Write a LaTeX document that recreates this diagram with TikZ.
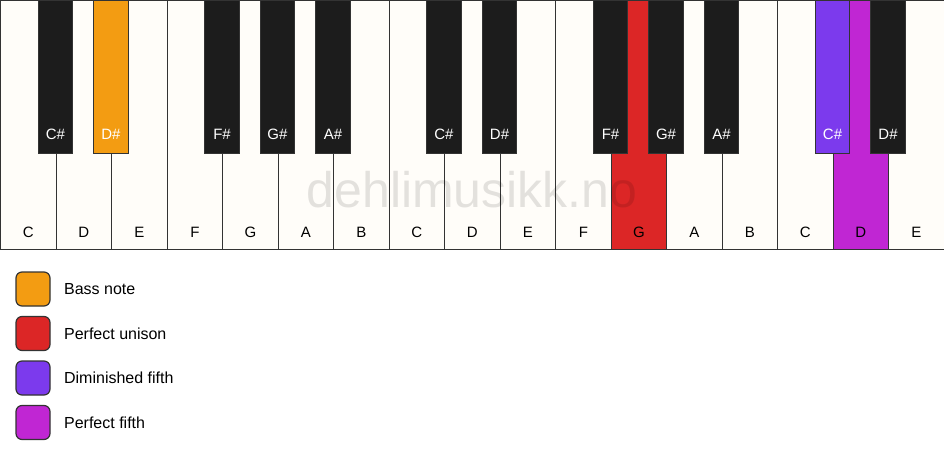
\documentclass[tikz,border=0pt]{standalone}
\usepackage{fontspec}
\setmainfont{Liberation Sans}
\usetikzlibrary{positioning}
\definecolor{keyWhite}{HTML}{FFFDF9}
\definecolor{keyBlack}{HTML}{1C1C1C}
\definecolor{keyLine}{HTML}{333333}
\definecolor{bassCol}{HTML}{F39C12}
\definecolor{unisonCol}{HTML}{DC2626}
\definecolor{dimCol}{HTML}{7C3AED}
\definecolor{fifthCol}{HTML}{C026D3}
\tikzset{
    whiteKey/.style={rectangle, draw=keyLine, line width=1.2pt, inner sep=0pt, minimum width=55.5pt, minimum height=249pt, anchor=north west},
    blackKey/.style={rectangle, draw=keyLine, line width=1.2pt, inner sep=0pt, minimum width=34.5pt, minimum height=153pt, anchor=north},
    whiteName/.style={font=\fontsize{15}{18}\selectfont, text=black, anchor=base},
    blackName/.style={font=\fontsize{15}{18}\selectfont, text=white, anchor=base},
    swatch/.style={rectangle, rounded corners=6pt, draw=keyLine, line width=1.2pt, inner sep=0pt, minimum size=34pt},
    legendText/.style={font=\fontsize{16}{19}\selectfont, anchor=west},
}
\newcommand{\drawWhite}[3][keyWhite]{
    \node[whiteKey, fill=#1] (w#2) at ({(#2-1)*55.5}, 0) {};
    \node[whiteName] (wn#2) at ([yshift=13pt]w#2.south) {#3};
}
\newcommand{\drawBlack}[3][keyBlack]{
    \node[blackKey, fill=#1] (b#2) at ({#2*55.5}, 0) {};
    \node[blackName] (bn#2) at ([yshift=15pt]b#2.south) {#3};
}

\begin{document}
\begin{tikzpicture}[x=1pt, y=-1pt]
    \useasboundingbox (0, 0) rectangle (944, 461);

    % white keys
    \foreach \n/\c [count=\i] in {C/keyWhite, D/keyWhite, E/keyWhite, F/keyWhite, G/keyWhite, A/keyWhite, B/keyWhite,
        C/keyWhite, D/keyWhite, E/keyWhite, F/keyWhite, G/unisonCol, A/keyWhite, B/keyWhite, C/keyWhite, D/fifthCol, E/keyWhite}
        {\drawWhite[\c]{\i}{\n}}

    % black keys
    \foreach \k/\n/\c in {1/C\#/keyBlack, 2/D\#/bassCol, 4/F\#/keyBlack, 5/G\#/keyBlack, 6/A\#/keyBlack,
        8/C\#/keyBlack, 9/D\#/keyBlack, 11/F\#/keyBlack, 12/G\#/keyBlack, 13/A\#/keyBlack, 15/C\#/dimCol, 16/D\#/keyBlack}
        {\drawBlack[\c]{\k}{\n}}

    \node[font=\fontsize{50}{60}\selectfont, text=black, text opacity=0.11, anchor=base] (mark) at (472, 207) {dehlimusikk.no};

    % legend
    \node[swatch, fill=bassCol] (s1) at (33, 289) {};
    \node[swatch, fill=unisonCol] (s2) at (33, 333.5) {};
    \node[swatch, fill=dimCol] (s3) at (33, 378) {};
    \node[swatch, fill=fifthCol] (s4) at (33, 422.5) {};
    \node[legendText, right=10pt of s1] (t1) {Bass note};
    \node[legendText, right=10pt of s2] (t2) {Perfect unison};
    \node[legendText, right=10pt of s3] (t3) {Diminished fifth};
    \node[legendText, right=10pt of s4] (t4) {Perfect fifth};

\end{tikzpicture}
\end{document}
